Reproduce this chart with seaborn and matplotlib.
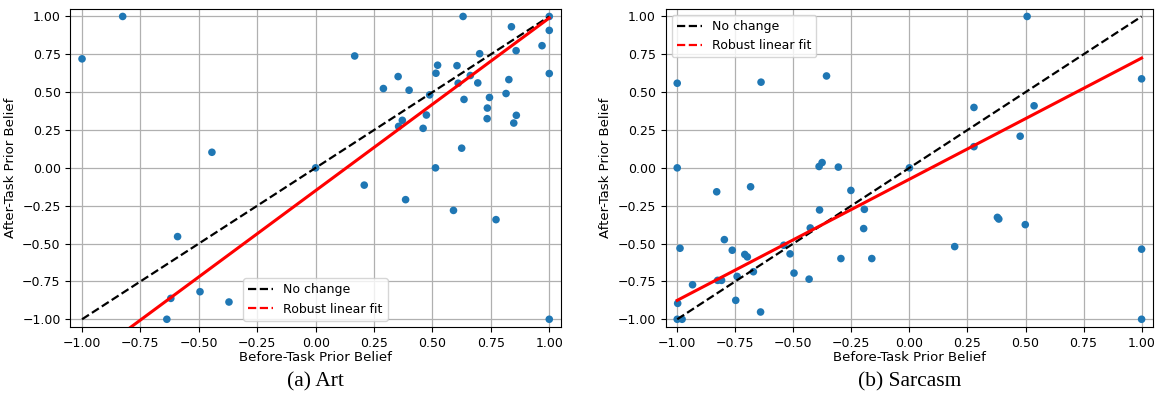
import matplotlib
matplotlib.use("Agg")
import matplotlib.pyplot as plt
from matplotlib.lines import Line2D
import seaborn as sns
import pandas as pd
import numpy as np

# Art: before/after prior belief per participant
art_before = [-1.0, -0.826, -0.444, 0.0, 0.631, 1.0, 0.838, 1.0, 0.969, 0.858,
              0.702, 0.167, 0.522, 0.605, 0.515, 1.0, 0.353, 0.662, 0.61, 0.694,
              0.827, 0.29, 0.40, 0.815, 0.488, 0.744, 0.635, 0.735, 0.474, 0.859,
              0.371, 0.355, 0.46, 0.734, 0.848, 0.625, 0.513, 0.208, 0.385, 0.59,
              0.772, 1.0, -0.591, -0.62, -0.495, -0.371, -0.637]
art_after = [0.72, 1.0, 0.103, 0.0, 1.0, 1.0, 0.932, 0.908, 0.807, 0.774,
             0.754, 0.739, 0.678, 0.675, 0.625, 0.623, 0.603, 0.61, 0.559, 0.561,
             0.583, 0.524, 0.513, 0.491, 0.482, 0.465, 0.452, 0.395, 0.349, 0.347,
             0.314, 0.274, 0.261, 0.325, 0.296, 0.13, 0.0, -0.114, -0.21, -0.281,
             -0.342, -1.0, -0.454, -0.862, -0.818, -0.886, -1.0]
art_fit = (1.14, -0.15)  # slope, intercept of robust fit

# Sarcasm
sarc_before = [-1.0, -0.639, -0.357, -1.0, -0.389, -0.376, -0.306, 0.507, 1.0, 0.278,
               0.537, 0.477, 0.278, 0.0, 0.195, 0.379, 0.385, 0.499, 1.0, 1.0,
               -0.83, -0.684, -0.252, -0.387, -0.194, -0.427, -0.197, -0.797, -0.988, -0.763,
               -0.541, -0.514, -0.709, -0.698, -0.295, -0.162, -0.672, -0.497, -0.742, -0.432,
               -0.934, -0.826, -0.809, -0.748, -0.998, -0.641, -1.0, -0.979]
sarc_after = [0.559, 0.566, 0.607, 0.0, 0.009, 0.035, 0.005, 1.0, 0.588, 0.399,
              0.41, 0.209, 0.14, 0.0, -0.52, -0.327, -0.338, -0.375, -0.537, -1.0,
              -0.158, -0.125, -0.149, -0.278, -0.274, -0.397, -0.401, -0.474, -0.531, -0.544,
              -0.511, -0.568, -0.572, -0.588, -0.599, -0.599, -0.686, -0.695, -0.717, -0.735,
              -0.772, -0.743, -0.743, -0.875, -0.895, -0.952, -1.0, -1.0]
sarc_fit = (0.80, -0.075)

panels = [
    ("(a) Art", art_before, art_after, art_fit, "lower center"),
    ("(b) Sarcasm", sarc_before, sarc_after, sarc_fit, "upper left"),
]

fig = plt.figure(figsize=(11.59, 4.04), dpi=100)
axes = [fig.add_axes([0.0607, 0.191, 0.4233, 0.787]),
        fig.add_axes([0.5743, 0.191, 0.4207, 0.787])]

for ax, (caption, before, after, fit, loc) in zip(axes, panels):
    df = pd.DataFrame({"before": before, "after": after})
    ax.set_axisbelow(True)
    ax.grid(True, color="#b0b0b0", linewidth=0.9)
    sns.scatterplot(data=df, x="before", y="after", ax=ax, color="#1f77b4",
                    s=30, edgecolor="none", zorder=2)
    ax.plot([-1, 1], [-1, 1], "k--", linewidth=1.6, zorder=3)
    xs = np.sort(df["before"].values)
    ax.plot(xs, fit[0] * xs + fit[1], color="red", linewidth=2.2, zorder=4)
    ax.set_xlim(-1.05, 1.05)
    ax.set_ylim(-1.05, 1.05)
    ax.set_xticks(np.arange(-1, 1.01, 0.25))
    ax.set_yticks(np.arange(-1, 1.01, 0.25))
    ax.tick_params(labelsize=9)
    ax.set_xlabel("Before-Task Prior Belief", fontsize=9.5, labelpad=1)
    ax.set_ylabel("After-Task Prior Belief", fontsize=9.5)
    handles = [Line2D([], [], color="black", linestyle="--", linewidth=1.6),
               Line2D([], [], color="red", linestyle="--", linewidth=1.6)]
    ax.legend(handles, ["No change", "Robust linear fit"], loc=loc, fontsize=9)
    pos = ax.get_position()
    fig.text((pos.x0 + pos.x1) / 2, 0.055, caption, ha="center", va="center",
             fontsize=15.5, family="Liberation Serif")

fig.savefig("out.png", dpi=100)
